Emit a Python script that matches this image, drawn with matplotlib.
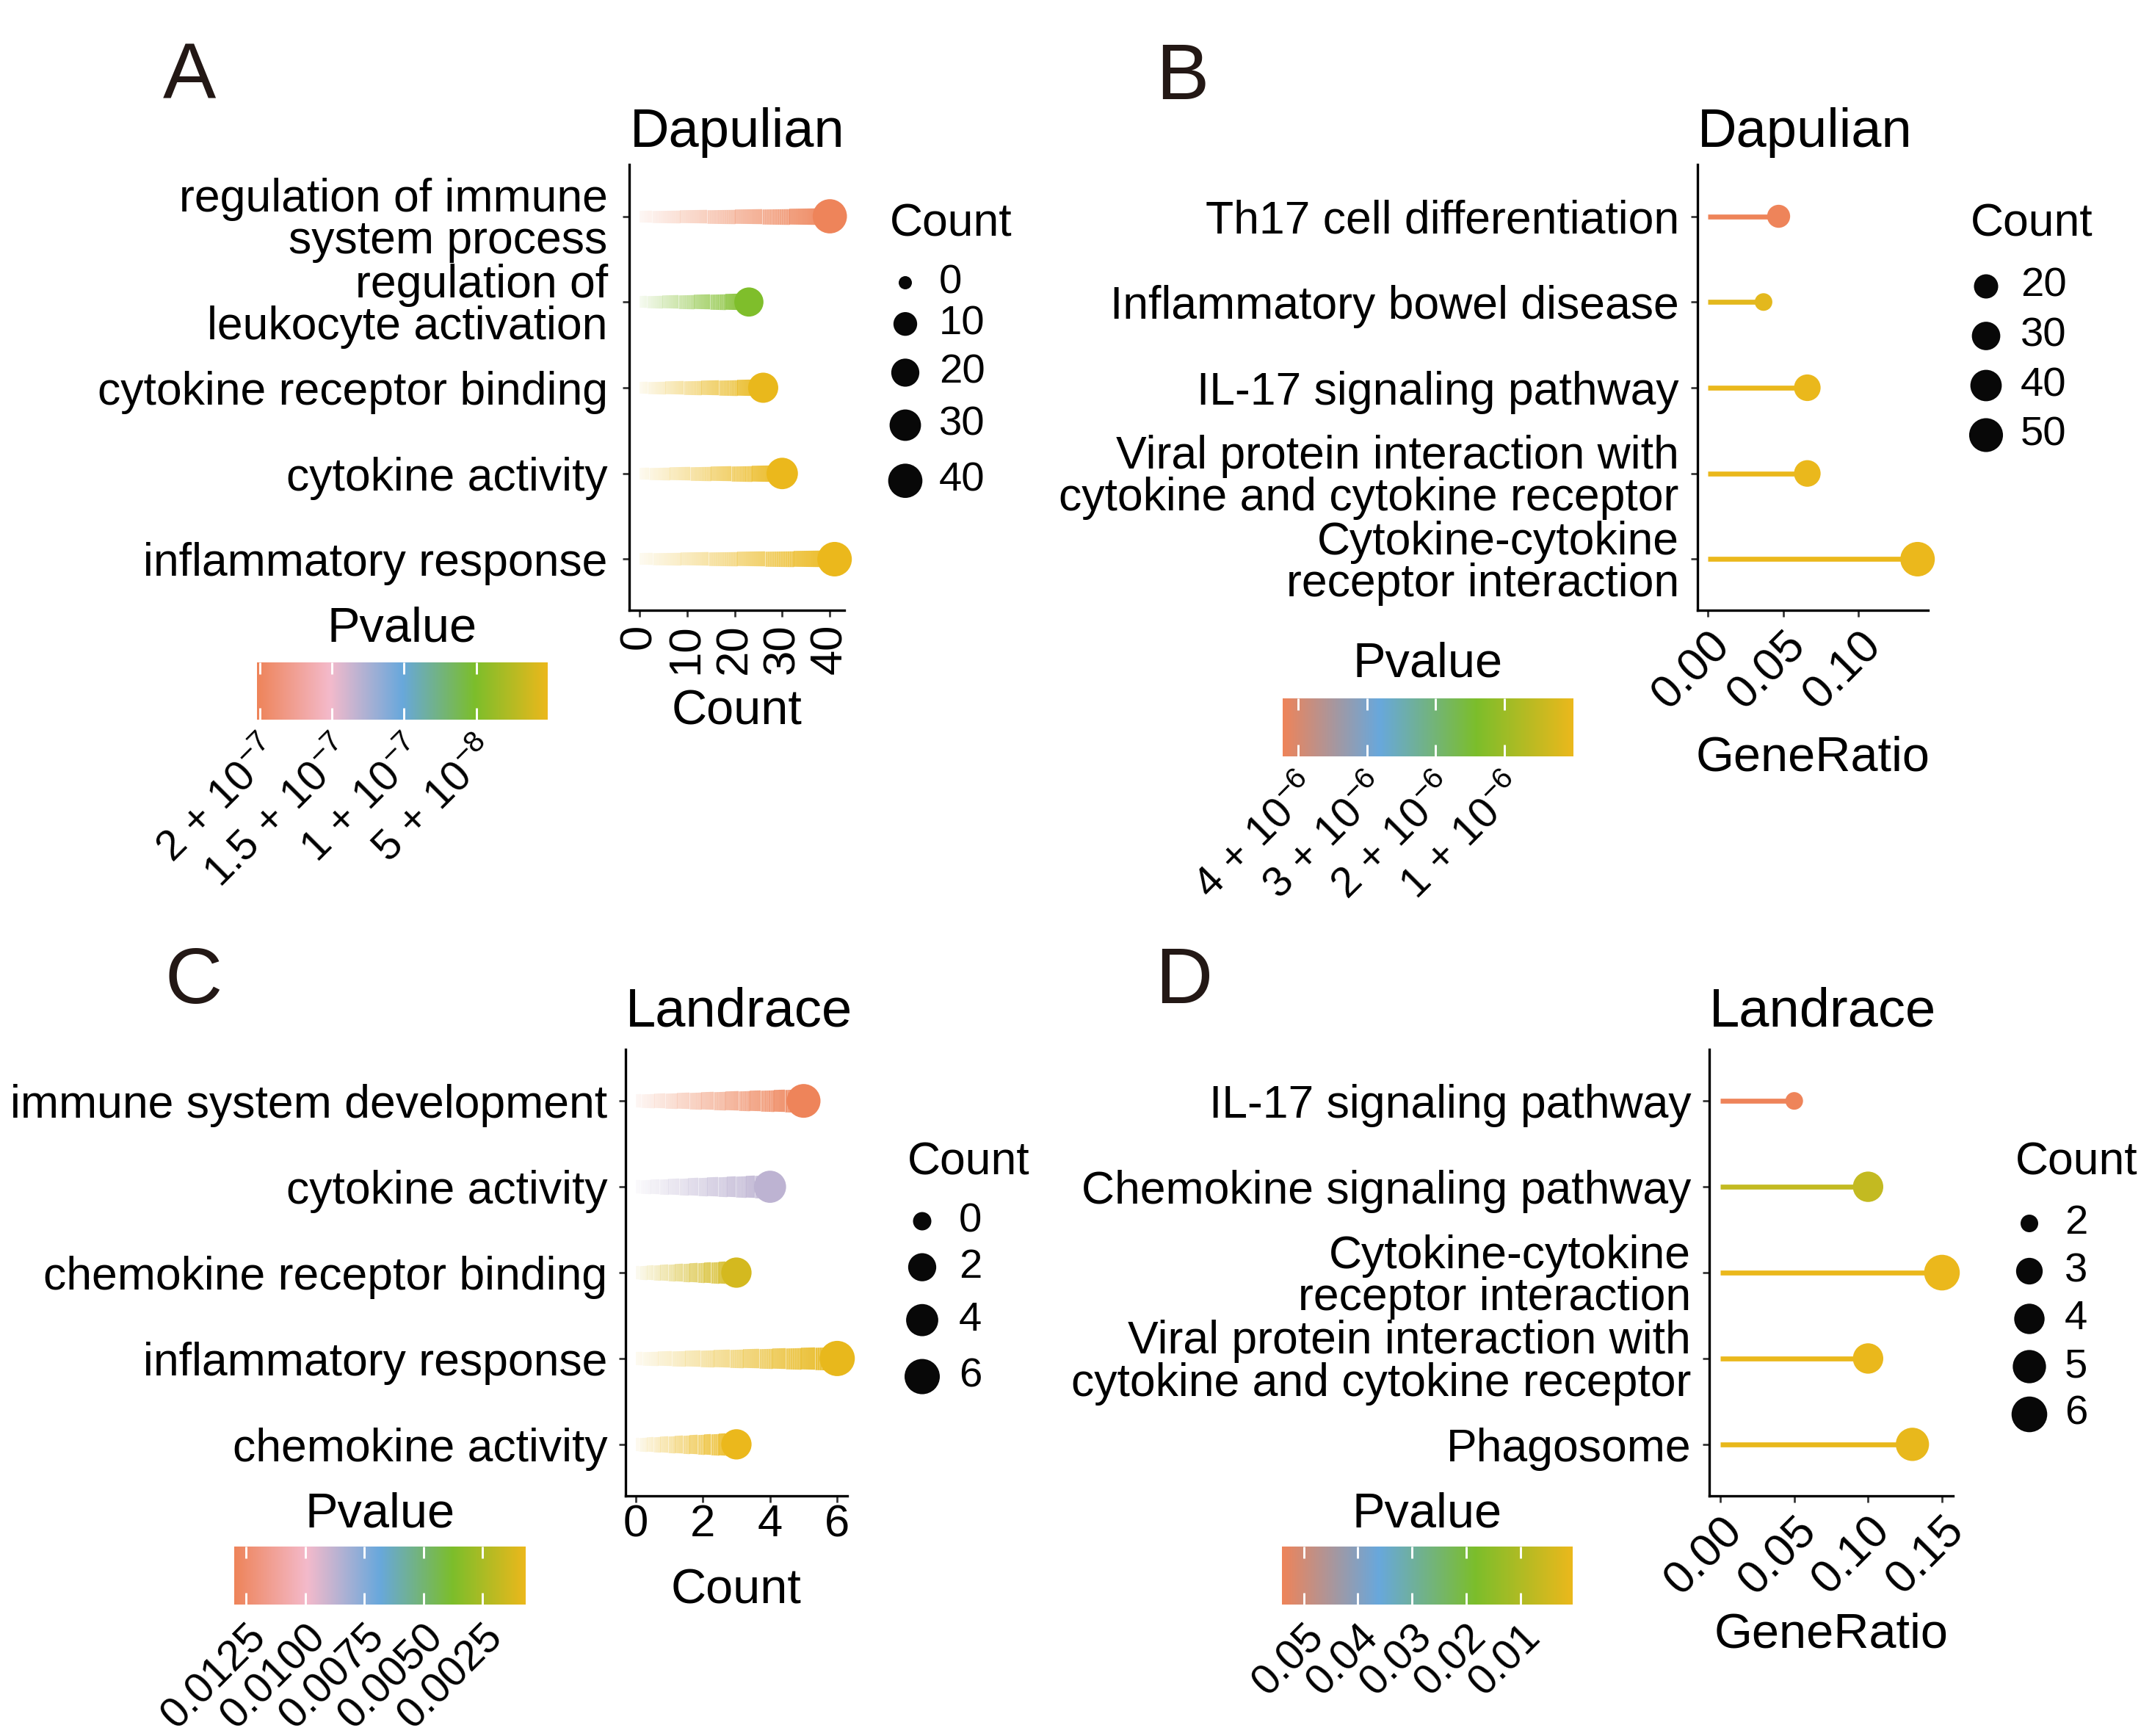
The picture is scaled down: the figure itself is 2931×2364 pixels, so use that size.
import numpy as np
import matplotlib
matplotlib.use("Agg")
import matplotlib.pyplot as plt
from matplotlib.colors import LinearSegmentedColormap, Normalize, to_rgb
from matplotlib.collections import LineCollection

plt.rcParams['font.family'] = ['Liberation Sans', 'DejaVu Sans']
plt.rcParams['mathtext.fontset'] = 'custom'
plt.rcParams['mathtext.rm'] = 'Liberation Sans'
plt.rcParams['mathtext.it'] = 'Liberation Sans:italic'
plt.rcParams['mathtext.bf'] = 'Liberation Sans:bold'

# ---------------- data ----------------
# Panel A (GO, Dapulian)
a_terms = ["regulation of immune\nsystem process", "regulation of\nleukocyte activation",
           "cytokine receptor binding", "cytokine activity", "inflammatory response"]
a_count = [40, 23, 26, 30, 41]
a_pvalue = [2.02e-7, 5.0e-8, 2.0e-9, 1.0e-9, 5.0e-10]
a_xticks = [0, 10, 20, 30, 40]
a_count_breaks = [0, 10, 20, 30, 40]
a_pticks = [2e-7, 1.5e-7, 1e-7, 5e-8]
a_pticklabels = [r"$2\,+\,10^{-7}$", r"$1.5\,+\,10^{-7}$", r"$1\,+\,10^{-7}$", r"$5\,+\,10^{-8}$"]

# Panel B (KEGG, Dapulian)
b_terms = ["Th17 cell differentiation", "Inflammatory bowel disease", "IL-17 signaling pathway",
           "Viral protein interaction with\ncytokine and cytokine receptor",
           "Cytokine-cytokine\nreceptor interaction"]
b_generatio = [0.047, 0.037, 0.066, 0.066, 0.139]
b_count = [18, 14, 25, 25, 53]
b_pvalue = [4.22e-6, 1.0e-7, 2.0e-8, 3.0e-8, 1.0e-9]
b_xticks = [0.00, 0.05, 0.10]
b_xticklabels = ["0.00", "0.05", "0.10"]
b_count_breaks = [20, 30, 40, 50]
b_pticks = [4e-6, 3e-6, 2e-6, 1e-6]
b_pticklabels = [r"$4\,+\,10^{-6}$", r"$3\,+\,10^{-6}$", r"$2\,+\,10^{-6}$", r"$1\,+\,10^{-6}$"]

# Panel C (GO, Landrace)
c_terms = ["immune system development", "cytokine activity", "chemokine receptor binding",
           "inflammatory response", "chemokine activity"]
c_count = [5, 4, 3, 6, 3]
c_pvalue = [0.0130, 0.0087, 0.0013, 0.0008, 0.00067]
c_xticks = [0, 2, 4, 6]
c_count_breaks = [0, 2, 4, 6]
c_pticks = [0.0125, 0.0100, 0.0075, 0.0050, 0.0025]
c_pticklabels = ["0.0125", "0.0100", "0.0075", "0.0050", "0.0025"]

# Panel D (KEGG, Landrace)
d_terms = ["IL-17 signaling pathway", "Chemokine signaling pathway",
           "Cytokine-cytokine\nreceptor interaction",
           "Viral protein interaction with\ncytokine and cytokine receptor", "Phagosome"]
d_generatio = [0.05, 0.10, 0.15, 0.10, 0.13]
d_count = [2, 4, 6, 4, 5]
d_pvalue = [0.054, 0.0070, 0.0004, 0.0008, 0.0010]
d_xticks = [0.00, 0.05, 0.10, 0.15]
d_xticklabels = ["0.00", "0.05", "0.10", "0.15"]
d_count_breaks = [2, 3, 4, 5, 6]
d_pticks = [0.05, 0.04, 0.03, 0.02, 0.01]
d_pticklabels = ["0.05", "0.04", "0.03", "0.02", "0.01"]

# ---------------- style ----------------
GOLD, GREEN, BLUE, PINK, SALMON = "#EBB81C", "#7CBE2B", "#68A8DC", "#F4BACB", "#EE845A"
cmap5 = LinearSegmentedColormap.from_list("p5", [GOLD, GREEN, BLUE, PINK, SALMON])
cmap4 = LinearSegmentedColormap.from_list("p4", [GOLD, GREEN, BLUE, SALMON])

W, H = 2931, 2364
DPI = 300
PT = 72.0 / DPI  # points per pixel

fig = plt.figure(figsize=(W / DPI, H / DPI), dpi=DPI)
fig.patch.set_facecolor("white")

def add_ax(l, t, r, b):
    return fig.add_axes([l / W, 1 - b / H, (r - l) / W, (b - t) / H])

overlay = fig.add_axes([0, 0, 1, 1])
overlay.set_xlim(0, W)
overlay.set_ylim(H, 0)
overlay.axis("off")
overlay.set_zorder(10)
overlay.patch.set_alpha(0)

def radius_px(c, lo, hi, rmin, rmax):
    t = np.clip((np.asarray(c, float) - lo) / (hi - lo), 0, 1)
    return rmin + (rmax - rmin) * np.sqrt(t)

def s_from_r(r):
    return (2 * np.asarray(r) * PT) ** 2

def style_axes(ax, ypad):
    for s in ["top", "right"]:
        ax.spines[s].set_visible(False)
    for s in ["left", "bottom"]:
        ax.spines[s].set_linewidth(0.8)
        ax.spines[s].set_color("black")
    ax.tick_params(axis="both", length=9 * PT, width=0.65, color="#333333")
    ax.tick_params(axis="y", labelsize=15, pad=ypad)
    ax.set_facecolor("none")

def gradient_stem(ax, y, x_end, color, w0, w1, n=90):
    xs = np.linspace(0, x_end, n + 1)
    segs = [[(xs[i], y), (xs[i + 1], y)] for i in range(n)]
    frac = (np.arange(n) + 0.5) / n
    rgb = to_rgb(color)
    cols = [(rgb[0], rgb[1], rgb[2], 0.06 + 0.9 * f) for f in frac]
    lws = (w0 + (w1 - w0) * frac) * PT
    ax.add_collection(LineCollection(segs, colors=cols, linewidths=lws, capstyle="butt", zorder=2))

def panel(box, terms, xvals, counts, pvals, cmap, title, title_pad, xlabel, xlabel_base,
          xticks, xticklabels, xrot, size_rng, gradient, taper, ypad):
    l, t, r, b = box
    ax = add_ax(l, t, r, b)
    style_axes(ax, ypad)
    n = len(terms)
    ys = np.arange(n)
    norm = Normalize(min(pvals), max(pvals))
    lo, hi = size_rng[0], size_rng[1]
    rad = radius_px(counts, lo, hi, size_rng[2], size_rng[3])
    for yi, xv, pv in zip(ys, xvals, pvals):
        col = cmap(norm(pv))
        if gradient:
            gradient_stem(ax, yi, xv, col, taper[0], taper[1])
        else:
            ax.plot([0, xv], [yi, yi], color=col, lw=6.7 * PT, solid_capstyle="butt", zorder=2)
    ax.scatter(xvals, ys, s=s_from_r(rad), c=[cmap(norm(p)) for p in pvals],
               edgecolors="none", zorder=3, clip_on=False)
    xmax = max(xvals)
    ax.set_xlim(-0.05 * xmax, 1.05 * xmax)
    ax.set_ylim(n - 1 + 0.6, -0.6)
    ax.set_yticks(ys)
    ax.set_yticklabels(terms, linespacing=0.96)
    ax.set_xticks(xticks)
    if xrot == 90:
        ax.set_xticklabels(xticklabels, rotation=90, ha="center", va="top", fontsize=14.8)
        ax.tick_params(axis="x", pad=2.2)
    elif xrot == 45:
        ax.set_xticklabels(xticklabels, rotation=45, ha="right", va="top",
                           rotation_mode="anchor", fontsize=15)
        ax.tick_params(axis="x", pad=2.0)
    else:
        ax.set_xticklabels(xticklabels, fontsize=14.8)
        ax.tick_params(axis="x", pad=0.5)
    ax.set_title(title, loc="left", fontsize=17.8, pad=title_pad)
    ax.set_xlabel(xlabel, fontsize=16, va="baseline")
    ax.xaxis.set_label_coords(0.5, (b - xlabel_base) / (b - t))
    return ax, norm

def colorbar(box, cmap, norm, ticks, labels, title_base):
    l, t, r, b = box
    cax = add_ax(l, t, r, b)
    vmin, vmax = norm.vmin, norm.vmax
    grad = np.linspace(vmin, vmax, 512)[None, :]
    cax.imshow(grad, cmap=cmap, norm=norm, extent=(vmin, vmax, 0, 1), aspect="auto",
               interpolation="bilinear")
    cax.set_xlim(vmax, vmin)
    cax.set_ylim(0, 1)
    cax.set_yticks([])
    for s in cax.spines.values():
        s.set_visible(False)
    cax.set_xticks(ticks)
    cax.set_xticklabels(labels, rotation=45, ha="right", va="top", rotation_mode="anchor",
                        fontsize=13.8)
    cax.tick_params(axis="x", direction="in", length=(b - t) * 0.2 * PT, width=0.7,
                    color="white", top=True, bottom=True, pad=4)
    overlay.text((l + r) / 2, title_base, "Pvalue", fontsize=16, ha="center", va="baseline")

def size_legend(title_x, title_base, breaks, size_rng, first_y, dot_x, label_x, base, k):
    overlay.text(title_x, title_base, "Count", fontsize=15, ha="left", va="baseline")
    rs = radius_px(breaks, size_rng[0], size_rng[1], size_rng[2], size_rng[3])
    y = first_y
    for i, (br, rr) in enumerate(zip(breaks, rs)):
        if i > 0:
            y += base + k * (rs[i - 1] + rr)
        overlay.scatter([dot_x], [y], s=s_from_r(rr), color="#080808", edgecolors="none")
        overlay.text(label_x, y, str(br), fontsize=13.5, ha="left", va="center")

# size ranges: (domain low, domain high, rmin px, rmax px)
a_size = (min(0, min(a_count)), max(a_count), 9.0, 23.5)
b_size = (min(b_count), max(b_count), 12.0, 23.5)
c_size = (min(0, min(c_count)), max(c_count), 12.5, 24.0)
d_size = (min(d_count), max(d_count), 12.0, 24.3)

# ---- A ----
axA, nA = panel((857.5, 224.5, 1150, 831.5), a_terms, a_count, a_count, a_pvalue, cmap5,
                "Dapulian", 5.8, "Count", 987, a_xticks, [str(v) for v in a_xticks], 90,
                a_size, True, (16, 23), 5.0)
colorbar((350, 902, 746, 980), cmap5, nA, a_pticks, a_pticklabels, 873)
size_legend(1212, 322, a_count_breaks, a_size, 385, 1233, 1279, 31, 1.0)

# ---- B ----
axB, nB = panel((2311.5, 224.5, 2626, 831.5), b_terms, b_generatio, b_count, b_pvalue, cmap4,
                "Dapulian", 5.8, "GeneRatio", 1050, b_xticks, b_xticklabels, 45,
                b_size, False, None, 3.8)
colorbar((1747, 951, 2143, 1030), cmap4, nB, b_pticks, b_pticklabels, 921)
size_legend(2684, 321, b_count_breaks, b_size, 390, 2705, 2752, 67.5, 0.0)

# ---- C ----
axC, nC = panel((852, 1429, 1154, 2037), c_terms, c_count, c_count, c_pvalue, cmap5,
                "Landrace", 7.5, "Count", 2183, c_xticks, [str(v) for v in c_xticks], 0,
                c_size, True, (18, 32), 3.8)
colorbar((319, 2106, 716, 2185), cmap5, nC, c_pticks, c_pticklabels, 2080)
size_legend(1236, 1600, c_count_breaks, c_size, 1663, 1256, 1306, 31, 1.0)

# ---- D ----
axD, nD = panel((2328, 1429, 2660, 2037), d_terms, d_generatio, d_count, d_pvalue, cmap4,
                "Landrace", 7.5, "GeneRatio", 2243, d_xticks, d_xticklabels, 45,
                d_size, False, None, 3.8)
colorbar((1746, 2106, 2142, 2185), cmap4, nD, d_pticks, d_pticklabels, 2080)
size_legend(2745, 1600, d_count_breaks, d_size, 1666, 2764, 2812, 65, 0.0)

# panel letters
for letter, x, y in [("A", 222, 135), ("B", 1574, 135), ("C", 225, 1366), ("D", 1573, 1366)]:
    overlay.text(x, y, letter, fontsize=26, ha="left", va="baseline", color="#231815")

fig.savefig("out.png", dpi=DPI, facecolor="white")
